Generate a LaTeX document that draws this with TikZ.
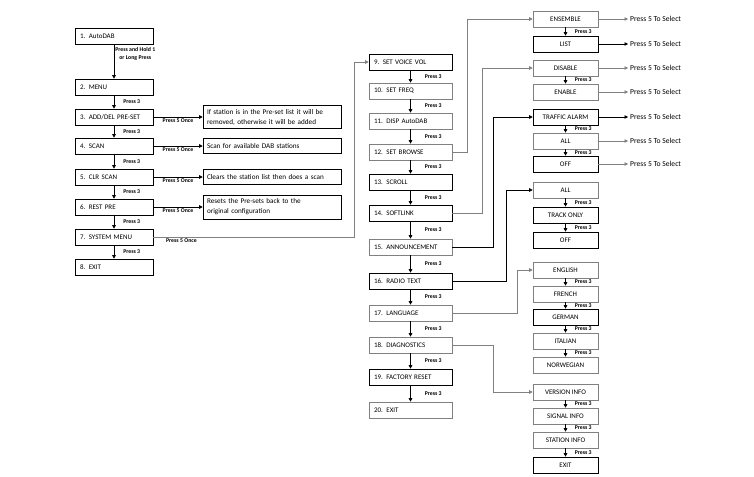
\documentclass[tikz,border=0pt]{standalone}
\usepackage{fontspec}
\setmainfont{Carlito}
\usetikzlibrary{arrows.meta}
\begin{document}
\begin{tikzpicture}[x=1pt,y=-1pt,
  arr/.style={-{Triangle[length=3.5pt,width=3.5pt]},line width=.6pt},
  every edge/.style={draw,arr},
  box/.style={draw=gray,line width=.6pt,minimum height=16pt,inner xsep=5pt,font=\fontsize{7}{8}\selectfont},
  lbox/.style={box,text width=68pt,align=left},
  rbox/.style={box,text width=73pt,align=left},
  sbox/.style={box,minimum width=65pt,align=center},
  dk/.style={draw=black},
  note/.style={draw,line width=.6pt,text width=130pt,inner xsep=4pt,align=left,font=\fontsize{7.2}{10}\selectfont},
  p3/.style={anchor=west,inner sep=1pt,xshift=#1,font=\fontsize{5.8}{6}\selectfont\bfseries},
  p3/.default=8pt,
  p5/.style={anchor=north,inner sep=1.5pt,font=\fontsize{5.8}{6}\selectfont\bfseries},
  sel/.style={anchor=west,inner sep=2pt,font=\fontsize{7.6}{8}\selectfont}]
  \useasboundingbox (0,0) rectangle (754,476);

  % main menu
  \node[lbox,dk] (l1) at (114,36) {1. AutoDAB};
  \node[lbox,dk] (l2) at (114,87) {2. MENU};
  \node[lbox,dk] (l3) at (114,117) {3. ADD/DEL PRE-SET};
  \node[lbox,dk] (l4) at (114,146) {4. SCAN};
  \node[lbox,dk] (l5) at (114,177) {5. CLR SCAN};
  \node[lbox,dk] (l6) at (114,207) {6. REST PRE};
  \node[lbox,dk] (l7) at (114,237) {7. SYSTEM MENU};
  \node[lbox,dk] (l8) at (114,267) {8. EXIT};

  \node[note,minimum height=22pt] (n3) at (272,117) {If station is in the Pre-set list it will be\\removed, otherwise it will be added};
  \node[note,minimum height=15pt] (n4) at (272,146) {Scan for available DAB stations};
  \node[note,minimum height=15pt] (n5) at (272,177) {Clears the station list then does a scan};
  \node[note,minimum height=24pt] (n6) at (272,207) {Resets the Pre-sets back to the\\original configuration};

  \path
    (l1) edge node[pos=.05,anchor=north west,align=center,inner sep=1pt,font=\fontsize{5.8}{8}\selectfont\bfseries] {Press and Hold 1\\or Long Press} (l2)
    (l2) edge node[p3] {Press 3} (l3)
    (l3) edge node[p3] {Press 3} (l4)
    (l4) edge node[p3] {Press 3} (l5)
    (l5) edge node[p3] {Press 3} (l6)
    (l6) edge node[p3] {Press 3} (l7)
    (l7) edge node[p3] {Press 3} (l8)
    (l3) edge node[p5] {Press 5 Once} (n3)
    (l4) edge node[p5] {Press 5 Once} (n4)
    (l5) edge node[p5] {Press 5 Once} (n5)
    (l6) edge node[p5] {Press 5 Once} (n6);

  % system menu
  \node[rbox,dk] (r9) at (410.5,62) {9. SET VOICE VOL};
  \node[rbox] (r10) at (410.5,91) {10. SET FREQ};
  \node[rbox] (r11) at (410.5,121) {11. DISP AutoDAB};
  \node[rbox] (r12) at (410.5,152) {12. SET BROWSE};
  \node[rbox,dk] (r13) at (410.5,182) {13. SCROLL};
  \node[rbox,dk] (r14) at (410.5,213) {14. SOFTLINK};
  \node[rbox] (r15) at (410.5,247) {15. ANNOUNCEMENT};
  \node[rbox,dk] (r16) at (410.5,281) {16. RADIO TEXT};
  \node[rbox] (r17) at (410.5,313) {17. LANGUAGE};
  \node[rbox] (r18) at (410.5,345) {18. DIAGNOSTICS};
  \node[rbox,dk] (r19) at (410.5,377) {19. FACTORY RESET};
  \node[rbox] (r20) at (410.5,410) {20. EXIT};

  \draw[gray,arr] (l7.east) -- node[p5,pos=.14,black] {Press 5 Once} ++(201,0) |- (r9);

  \path
    (r9) edge node[p3=13pt] {Press 3} (r10)
    (r10) edge node[p3=13pt] {Press 3} (r11)
    (r11) edge node[p3=13pt] {Press 3} (r12)
    (r12) edge node[p3=13pt] {Press 3} (r13)
    (r13) edge node[p3=13pt] {Press 3} (r14)
    (r14) edge node[p3=13pt] {Press 3} (r15)
    (r15) edge node[p3=13pt] {Press 3} (r16)
    (r16) edge node[p3=13pt] {Press 3} (r17)
    (r17) edge node[p3=13pt] {Press 3} (r18)
    (r18) edge node[p3=13pt] {Press 3} (r19)
    (r19) edge node[p3=13pt] {Press 3} (r20);

  % sub menus
  \node[sbox] (a1) at (565.5,19) {ENSEMBLE};
  \node[sbox,dk] (a2) at (565.5,44) {LIST};
  \node[sbox] (b1) at (565.5,68) {DISABLE};
  \node[sbox] (b2) at (565.5,92) {ENABLE};
  \node[sbox,dk] (c1) at (565.5,117) {TRAFFIC ALARM};
  \node[sbox] (c2) at (565.5,141) {ALL};
  \node[sbox,dk] (c3) at (565.5,164) {OFF};
  \node[sbox] (d1) at (565.5,190) {ALL};
  \node[sbox,dk] (d2) at (565.5,215) {TRACK ONLY};
  \node[sbox,dk] (d3) at (565.5,240) {OFF};
  \node[sbox] (g1) at (565.5,270) {ENGLISH};
  \node[sbox] (g2) at (565.5,294) {FRENCH};
  \node[sbox,dk] (g3) at (565.5,317) {GERMAN};
  \node[sbox] (g4) at (565.5,341) {ITALIAN};
  \node[sbox] (g5) at (565.5,365) {NORWEGIAN};
  \node[sbox] (v1) at (565.5,392) {VERSION INFO};
  \node[sbox] (v2) at (565.5,416) {SIGNAL INFO};
  \node[sbox] (v3) at (565.5,440) {STATION INFO};
  \node[sbox,dk] (v4) at (565.5,465) {EXIT};

  \node[sel] (s1) at (628,19) {Press 5 To Select};
  \node[sel] (s2) at (628,44) {Press 5 To Select};
  \node[sel] (s3) at (628,68) {Press 5 To Select};
  \node[sel] (s4) at (628,92) {Press 5 To Select};
  \node[sel] (s5) at (628,117) {Press 5 To Select};
  \node[sel] (s6) at (628,141) {Press 5 To Select};
  \node[sel] (s7) at (628,164) {Press 5 To Select};

  \path
    (a1) edge node[p3] {Press 3} (a2)
    (b1) edge node[p3] {Press 3} (b2)
    (c1) edge node[p3] {Press 3} (c2)
    (c2) edge node[p3] {Press 3} (c3)
    (d1) edge node[p3] {Press 3} (d2)
    (d2) edge node[p3] {Press 3} (d3)
    (g1) edge node[p3] {Press 3} (g2)
    (g2) edge node[p3] {Press 3} (g3)
    (g3) edge node[p3] {Press 3} (g4)
    (g4) edge node[p3] {Press 3} (g5)
    (v1) edge node[p3] {Press 3} (v2)
    (v2) edge node[p3] {Press 3} (v3)
    (v3) edge node[p3] {Press 3} (v4)
    (a1) edge[gray] (s1)
    (a2) edge (s2)
    (b1) edge[gray] (s3)
    (b2) edge[gray] (s4)
    (c1) edge (s5)
    (c2) edge[gray] (s6)
    (c3) edge[gray] (s7);

  \draw[gray,arr] (r12.east) -- ++(15,0) |- (a1);
  \draw[gray,arr] (r14.east) -- ++(30,0) |- (b1);
  \draw[arr] (r15.east) -- ++(41,0) |- (c1);
  \draw[arr] (r16.east) -- ++(54,0) |- (d1);
  \draw[gray,arr] (r17.east) -- ++(65,0) |- (g1);
  \draw[gray,arr] (r18.east) -- ++(41,0) |- (v1);
\end{tikzpicture}
\end{document}
